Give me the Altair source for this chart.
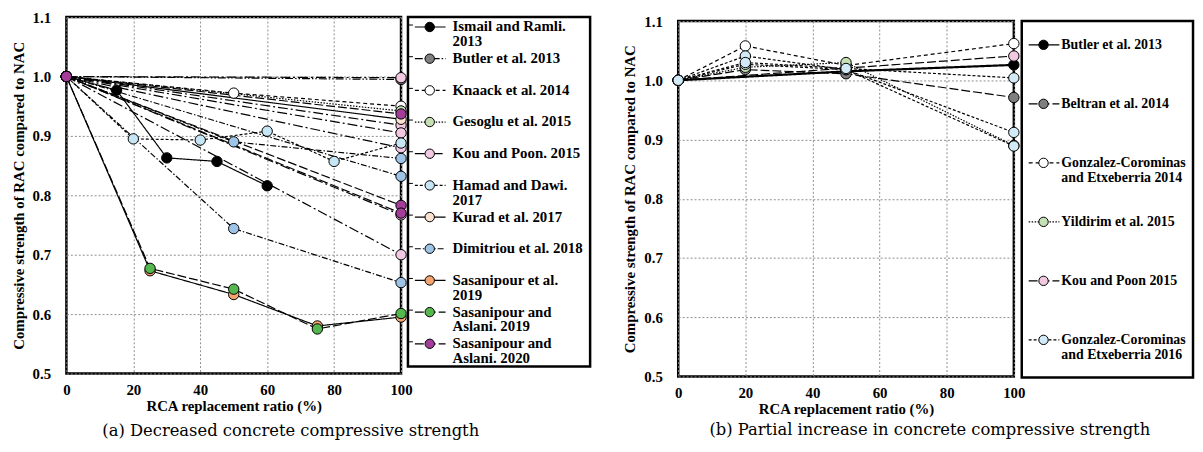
import altair as alt
import pandas as pd

FONT = "Liberation Serif"
CAP_FONT = "DejaVu Serif"

# ---------------- shared axis values ----------------
x_ticks = [0, 20, 40, 60, 80, 100]
y_ticks = [0.5, 0.6, 0.7, 0.8, 0.9, 1.0, 1.1]

# line-style keys and dash arrays
dash_keys = ["solid", "dash", "longdash", "dot", "short", "dashdot", "longdashdot", "dashdotdot"]
dash_vals = [[1, 0], [4, 3], [9, 3], [1.5, 1.5], [3, 2], [6, 2, 1.5, 2], [10, 3, 2, 3], [8, 2, 1.5, 2, 1.5, 2]]

# ---------------- Panel (a): decreased strength ----------------
a_names = ["Ismail and Ramli. 2013", "Butler et al. 2013", "Knaack et al. 2014", "Gesoglu et al. 2015",
           "Kou and Poon. 2015", "Hamad and Dawi. 2017", "Kurad et al. 2017", "Dimitriou et al. 2018",
           "Sasanipour et al. 2019", "Sasanipour and Aslani. 2019", "Sasanipour and Aslani. 2020"]
a_labels = ["Ismail and Ramli.\n2013", "Butler et al. 2013", "Knaack et al. 2014", "Gesoglu et al. 2015",
            "Kou and Poon. 2015", "Hamad and Dawi.\n2017", "Kurad et al. 2017", "Dimitriou et al. 2018",
            "Sasanipour et al.\n2019", "Sasanipour and\nAslani. 2019", "Sasanipour and\nAslani. 2020"]
a_fills = ["#000000", "#7f7f7f", "#ffffff", "#c5e0b4", "#f2c9e1", "#c7e6f5", "#fbe2d0",
           "#9dc3e6", "#f4a46e", "#55b84f", "#a43d9a"]
a_dashes = ["solid", "dashdotdot", "dash", "dot", "longdashdot", "short", "solid",
            "dashdot", "solid", "longdash", "longdash"]

a_ismail_x = [0, 15, 30, 45, 60]
a_ismail_y = [1.0, 0.977, 0.863, 0.857, 0.816]
a_butler_end = [0.995]
a_knaack_x = [0, 50, 100]
a_knaack_y = [1.0, 0.972, 0.950]
a_gesoglu_end = [0.942]
a_kou_end = [0.998, 0.918, 0.905, 0.880, 0.767, 0.700]
a_hamad_x = [0, 20, 40, 60, 80, 100]
a_hamad_y = [1.0, 0.895, 0.893, 0.908, 0.857, 0.888]
a_kurad_end = [0.928]
a_dim_x = [0, 50, 100]
a_dim1_y = [1.0, 0.890, 0.862]
a_dim2_y = [1.0, 0.744, 0.653]
a_dim_end = [0.832]
a_rca_x = [0, 25, 50, 75, 100]
a_sas19_y = [1.0, 0.673, 0.633, 0.580, 0.595]
a_sa19_y = [1.0, 0.677, 0.642, 0.575, 0.601]
a_sa20_end = [0.937, 0.783, 0.770]

# ---------------- Panel (b): partial increase ----------------
b_names = ["Butler et al. 2013", "Beltran et al. 2014", "Gonzalez-Corominas and Etxeberria 2014",
           "Yildirim et al. 2015", "Kou and Poon 2015", "Gonzalez-Corominas and Etxeberria 2016"]
b_labels = ["Butler et al. 2013", "Beltran et al. 2014", "Gonzalez-Corominas\nand Etxeberria 2014",
            "Yildirim et al. 2015", "Kou and Poon 2015", "Gonzalez-Corominas\nand Etxeberria 2016"]
b_fills = ["#000000", "#7f7f7f", "#ffffff", "#c5e0b4", "#f2c9e1", "#d2e9f6"]
b_dashes = ["solid", "longdash", "dash", "dot", "longdash", "short"]

b_butler_x = [0, 50, 100]
b_butler_y = [1.0, 1.015, 1.026]
b_beltran_x = [0, 20, 50, 100]
b_beltran_y = [1.0, 1.018, 1.011, 0.971]
b_gc14_x = [0, 20, 50, 100]
b_gc14_y = [1.0, 1.058, 1.025, 1.062]
b_yil_x = [0, 20, 50, 100]
b_yil_y = [1.0, 1.022, 1.030, 0.890]
b_kou_end = [1.041]
b_gc16_x = [0, 20, 50, 100]
b_gc16a_y = [1.0, 1.041, 1.018, 0.912]
b_gc16b_y = [1.0, 1.027, 1.018, 0.889]
b_gc16c_y = [1.0, 1.030, 1.020, 1.004]


def straight(ends):
    return [([0, 100], [1.0, e]) for e in ends]


a_lines = [
    [(a_ismail_x, a_ismail_y)],
    straight(a_butler_end),
    [(a_knaack_x, a_knaack_y)],
    straight(a_gesoglu_end),
    straight(a_kou_end),
    [(a_hamad_x, a_hamad_y)],
    straight(a_kurad_end),
    [(a_dim_x, a_dim1_y), (a_dim_x, a_dim2_y)] + straight(a_dim_end),
    [(a_rca_x, a_sas19_y)],
    [(a_rca_x, a_sa19_y)],
    straight(a_sa20_end),
]
a_widths = [1.2] * len(a_names)

b_lines = [
    [(b_butler_x, b_butler_y)],
    [(b_beltran_x, b_beltran_y)],
    [(b_gc14_x, b_gc14_y)],
    [(b_yil_x, b_yil_y)],
    straight(b_kou_end),
    [(b_gc16_x, b_gc16a_y), (b_gc16_x, b_gc16b_y), (b_gc16_x, b_gc16c_y)],
]
b_widths = [2.2, 1.2, 1.2, 1.2, 1.2, 1.2]


def build(names, fills, dashes, lines, widths):
    lrows, prows = [], []
    lid = 0
    for name, fill, dash, ls, w in zip(names, fills, dashes, lines, widths):
        for xs, ys in ls:
            lid += 1
            for x, y in zip(xs, ys):
                lrows.append(dict(x=x, y=y, line=f"L{lid}", dash=dash, w=w))
                prows.append(dict(x=x, y=y, fill=fill, series=name))
    return pd.DataFrame(lrows), pd.DataFrame(prows)


dash_scale = alt.Scale(domain=dash_keys, range=dash_vals)


def plot(lines_df, pts_df, w, h):
    x = alt.X("x:Q", scale=alt.Scale(domain=[0, 100], nice=False, zero=False),
              axis=alt.Axis(values=x_ticks, title="RCA replacement ratio (%)", labelPadding=9,
                            titlePadding=1, labelFlush=False))
    y = alt.Y("y:Q", scale=alt.Scale(domain=[0.5, 1.1], nice=False, zero=False),
              axis=alt.Axis(values=y_ticks, format=".1f", title="Compressive strength of RAC compared to NAC",
                            labelPadding=16, titlePadding=6, labelFlush=False))
    lines = alt.Chart(lines_df).mark_line(color="black").encode(
        x=x, y=y, detail="line:N",
        strokeDash=alt.StrokeDash("dash:N", scale=dash_scale, legend=None),
        strokeWidth=alt.StrokeWidth("w:Q", scale=None),
    )
    pts = alt.Chart(pts_df).mark_point(shape="circle", filled=True, size=110, stroke="black",
                                       strokeWidth=1, opacity=1).encode(
        x="x:Q", y="y:Q", fill=alt.Fill("fill:N", scale=None))
    return alt.layer(lines, pts).properties(width=w, height=h)


def legend(labels, fills, dashes, field, dom, w, h, tx, fs, ticks):
    df = pd.DataFrame({field: list(range(len(labels))), "label": labels, "fill": fills, "dash": dashes})
    base = alt.Chart(df).encode(
        y=alt.Y(f"{field}:Q", scale=alt.Scale(domain=dom, reverse=True, nice=False, zero=False), axis=None))
    rule = base.mark_rule(color="black", strokeWidth=1.2).encode(
        x=alt.value(7), x2=alt.value(38),
        strokeDash=alt.StrokeDash("dash:N", scale=dash_scale, legend=None))
    pt = base.mark_point(shape="circle", filled=True, size=90, stroke="black", strokeWidth=1, opacity=1).encode(
        x=alt.value(22), fill=alt.Fill("fill:N", scale=None))
    txt = base.mark_text(align="left", baseline="alphabetic", dy=4.5, font=FONT, fontWeight="bold",
                         fontSize=fs, lineHeight=15, lineBreak="\n", color="black").encode(
        x=alt.value(tx), text="label:N")
    layers = [rule, pt, txt]
    if ticks:
        tk = base.mark_rule(color="black", strokeWidth=1, yOffset=-2).encode(x=alt.value(0), x2=alt.value(5))
        layers = [tk] + layers
    return alt.layer(*layers).properties(width=w, height=h)


a_ldf, a_pdf = build(a_names, a_fills, a_dashes, a_lines, a_widths)
b_ldf, b_pdf = build(b_names, b_fills, b_dashes, b_lines, b_widths)

plot_a = plot(a_ldf, a_pdf, 338, 360)
plot_b = plot(b_ldf, b_pdf, 339, 359)
leg_a = legend(a_labels, a_fills, a_dashes, "ka", [-0.3125, 10.719], 184, 353, 45, 15, True)
leg_b = legend(b_labels, b_fills, b_dashes, "kb", [-0.403, 5.637], 173, 360, 40, 14, False)


def caption(text, dx, off):
    return alt.TitleParams(text, orient="bottom", anchor="middle", font=CAP_FONT, fontSize=16.5,
                           fontWeight="normal", color="black", offset=off, dx=dx, frame="bounds")


panel_a = alt.hconcat(plot_a, leg_a, spacing=7, bounds="flush").properties(
    title=caption("(a) Decreased concrete compressive strength", -10, 9))
panel_b = alt.hconcat(plot_b, leg_b, spacing=8, bounds="flush").properties(
    title=caption("(b) Partial increase in concrete compressive strength", 22, 5))

# invisible 4px strip that sets panel (b) slightly lower than panel (a), as in the original
spacer = alt.Chart(pd.DataFrame({"v": [0]})).mark_rule(strokeOpacity=0).encode(
    x=alt.value(0)).properties(width=339, height=4, view=alt.ViewBackground(strokeOpacity=0))
col_b = alt.vconcat(spacer, panel_b, spacing=0, bounds="flush")

chart = alt.hconcat(panel_a, col_b, spacing=30).properties(
    padding={"left": 2, "top": -2, "right": 0, "bottom": 0}
).configure(
    font=FONT
).configure_view(
    stroke="black", strokeWidth=2.5
).configure_axis(
    domain=False, ticks=False, grid=True, gridColor="#8c8c8c", gridDash=[2, 2], gridWidth=1,
    labelFont=FONT, labelFontWeight="bold", labelFontSize=15, labelColor="black",
    titleFont=FONT, titleFontWeight="bold", titleFontSize=15, titleColor="black",
)

chart.save("out.html", embed_options={"renderer": "svg", "actions": False})
